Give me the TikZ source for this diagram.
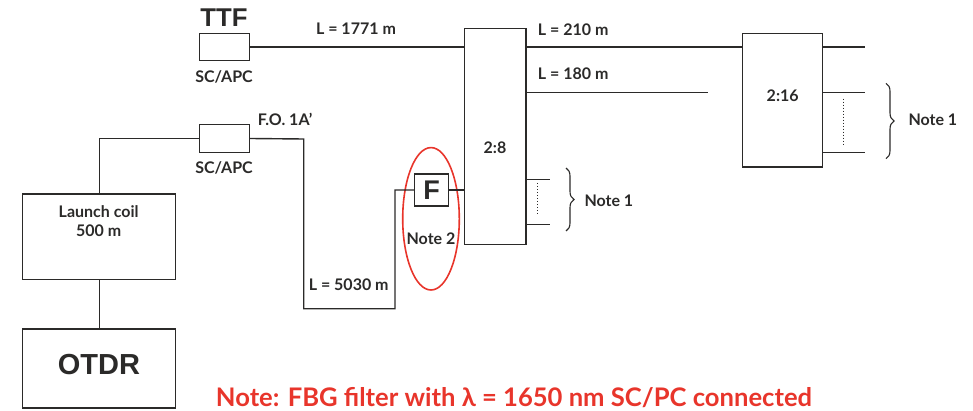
\documentclass[tikz,border=0pt]{standalone}
\usepackage{fontspec}
\setmainfont{Lato}
\newfontfamily\arialfont{Liberation Sans}
\usetikzlibrary{shapes.geometric,decorations.pathreplacing}
\definecolor{ink}{HTML}{2B2A29}
\definecolor{notered}{HTML}{E8352B}
\tikzset{
  wire/.style={draw=ink,line width=1.4pt},
  boxnode/.style={draw=ink,line width=1.4pt,rectangle,inner sep=0pt},
  lbl/.style={font=\fontsize{16}{19}\selectfont\bfseries,text=ink,inner sep=0pt},
  bigl/.style={font=\arialfont\bfseries,text=ink,inner sep=0pt},
  dotln/.style={draw=ink,line width=1pt,dash pattern=on 1.5pt off 1.5pt},
  bracel/.style={draw=ink,line width=1.1pt,decorate,decoration={brace,amplitude=8pt}},
}
\begin{document}
\begin{tikzpicture}[x=1pt,y=-1pt]
\useasboundingbox (0,0) rectangle (973,411);
% boxes
\node[boxnode,minimum width=49.6pt,minimum height=26.6pt] (ttfbox) at (224.5,47) {};
\node[boxnode,minimum width=49.6pt,minimum height=27.6pt] (scbox) at (224.5,138.5) {};
\node[boxnode,minimum width=153pt,minimum height=85.3pt] (launch) at (99.2,236.7) {};
\node[boxnode,minimum width=153pt,minimum height=79pt] (otdr) at (99.2,368.5) {};
\node[boxnode,minimum width=33.6pt,minimum height=32pt] (fbox) at (431.5,190) {};
\node[boxnode,minimum width=61.7pt,minimum height=216.4pt] (s28) at (495.2,136.5) {};
\node[boxnode,minimum width=80.4pt,minimum height=133.7pt] (s216) at (782.5,100.2) {};
% texts
\node[bigl,font=\arialfont\bfseries\fontsize{25.7}{28}\selectfont] (ttf) at (224,18) {TTF};
\node[bigl,font=\arialfont\bfseries\fontsize{27}{30}\selectfont] (ftext) at (fbox) {F};
\node[bigl,font=\arialfont\bfseries\fontsize{29}{32}\selectfont] (otdrtext) at (99,365) {OTDR};
\node[lbl] (sc1) at (224,77.3) {SC/APC};
\node[lbl] (sc2) at (224,168.3) {SC/APC};
\node[lbl] (fo) at (285,119.3) {F.O. 1A’};
\node[lbl,align=center,font=\fontsize{16}{19}\selectfont\bfseries] (lctext) at (98.7,221.2) {Launch coil\\500 m};
\node[lbl] (l1771) at (356,29) {L = 1771 m};
\node[lbl,anchor=west] (l210) at (537.7,29.3) {L = 210 m};
\node[lbl,anchor=west] (l180) at (537.7,74) {L = 180 m};
\node[lbl] (t28) at (495,148) {2:8};
\node[lbl] (t216) at (782.7,95.7) {2:16};
\node[lbl,anchor=west] (note1a) at (584.3,200.7) {Note 1};
\node[lbl,anchor=west] (note1b) at (908.3,119.3) {Note 1};
\node[lbl] (note2) at (431,238.7) {Note 2};
\node[lbl] (l5030) at (348.7,284.3) {L = 5030 m};
\node[font=\fontsize{25.6}{28}\selectfont\bfseries,text=notered,inner sep=0pt] (rednote) at (514,397.5) {Note: FBG filter with λ = 1650 nm SC/PC connected};
% red ellipse
\node[draw=notered,line width=1.6pt,ellipse,minimum width=56.6pt,minimum height=142.4pt,inner sep=0pt] (ell) at (431,218.8) {};
% free ends
\coordinate (c1) at (303.7,139);
\coordinate (c2) at (303.7,308.7);
\coordinate (c3) at (395,308.7);
\coordinate (e180) at (708.3,92.3);
\coordinate (o1) at (865,47);
\coordinate (o2) at (865,92.3);
\coordinate (o3) at (865,152.7);
\coordinate (p1) at (550.3,179.3);
\coordinate (p2) at (550.3,224.7);
% wires
\draw[wire] (ttfbox.east) -- (ttfbox.east -| s28.west);
\draw[wire] (s28.east |- ttfbox.east) -- (s216.west |- ttfbox.east);
\draw[wire] (s28.east |- e180) -- (e180);
\draw[wire] (scbox.west) -| (launch.north);
\draw[wire] (scbox.east) -- (c1) -- (c2) -- (c3) |- (fbox.west);
\draw[wire] (fbox.east) -- (fbox.east -| s28.west);
\draw[wire] (launch.south) -- (otdr.north);
\draw[wire] (s28.east |- p1) -- (p1);
\draw[wire] (s28.east |- p2) -- (p2);
\draw[wire] (s216.east |- o1) -- (o1);
\draw[wire] (s216.east |- o2) -- (o2);
\draw[wire] (s216.east |- o3) -- (o3);
\draw[dotln] (537.7,183) -- (537.7,216);
\draw[dotln] (843,98.7) -- (843,146);
\draw[bracel] (566,168) -- (566,231);
\draw[bracel] (886,83.3) -- (886,158.7);
\end{tikzpicture}
\end{document}
